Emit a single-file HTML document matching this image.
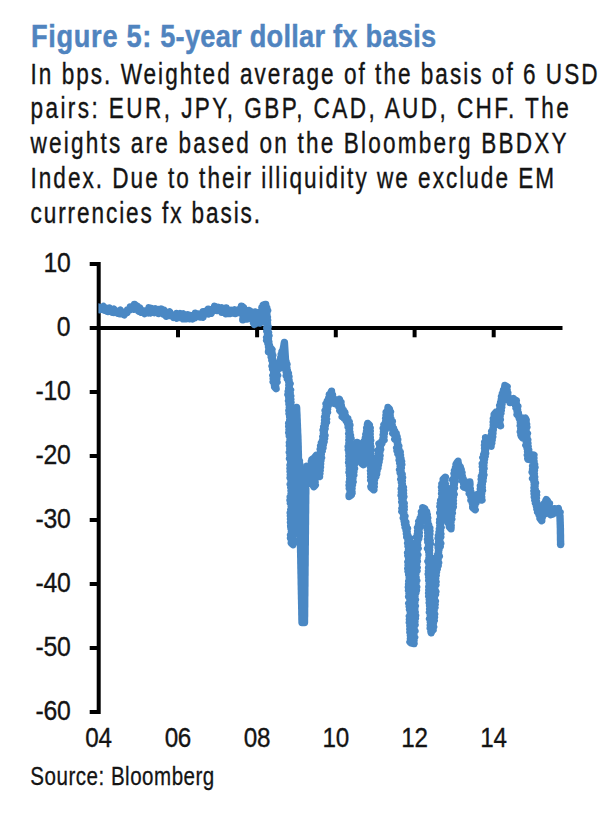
<!DOCTYPE html><html><head><meta charset="utf-8"><title>Figure 5: 5-year dollar fx basis</title>
<style>
html,body{margin:0;padding:0;background:#fff;}
body{width:600px;height:817px;position:relative;overflow:hidden;font-family:"Liberation Sans",Arial,sans-serif;}
.t{position:absolute;left:0;top:0;white-space:pre;transform-origin:0 0;line-height:1;}
.r{position:absolute;right:0;top:0;white-space:pre;transform-origin:100% 0;line-height:1;}
.c{position:absolute;left:0;top:0;width:100px;text-align:center;white-space:pre;transform-origin:50% 0;line-height:1;}
.title{font-weight:bold;font-size:32px;color:#5084bf;-webkit-text-stroke:0.45px #5084bf;}
.body{font-size:30px;color:#141414;-webkit-text-stroke:0.4px #141414;}
.src{font-size:26px;color:#141414;-webkit-text-stroke:0.3px #141414;}
.dig{font-size:28px;color:#141414;-webkit-text-stroke:0.35px #141414;}
</style></head><body>
<svg width="600" height="817" viewBox="0 0 600 817" style="position:absolute;left:0;top:0">
<g stroke="#000" stroke-width="4.0" fill="none" stroke-linecap="butt">
<line x1="98.7" y1="262.0" x2="98.7" y2="714.0"/>
<line x1="89.7" y1="264.0" x2="98.7" y2="264.0"/>
<line x1="89.7" y1="328.0" x2="98.7" y2="328.0"/>
<line x1="89.7" y1="392.0" x2="98.7" y2="392.0"/>
<line x1="89.7" y1="456.0" x2="98.7" y2="456.0"/>
<line x1="89.7" y1="520.0" x2="98.7" y2="520.0"/>
<line x1="89.7" y1="584.0" x2="98.7" y2="584.0"/>
<line x1="89.7" y1="648.0" x2="98.7" y2="648.0"/>
<line x1="89.7" y1="712.0" x2="98.7" y2="712.0"/>
<line x1="98.7" y1="328.0" x2="562.5" y2="328.0"/>
<line x1="178.0" y1="328.0" x2="178.0" y2="337.3"/>
<line x1="257.1" y1="328.0" x2="257.1" y2="337.3"/>
<line x1="335.8" y1="328.0" x2="335.8" y2="337.3"/>
<line x1="414.6" y1="328.0" x2="414.6" y2="337.3"/>
<line x1="493.7" y1="328.0" x2="493.7" y2="337.3"/>
</g>
<clipPath id="cl"><rect x="98.4" y="250" width="500" height="480"/></clipPath>
<path clip-path="url(#cl)" d="M98.7,309.5 L98.4,306.9 L100.0,309.6 L103.4,306.5 L104.4,310.2 L105.3,308.0 L105.1,309.6 L109.4,308.0 L107.5,311.6 L109.7,310.5 L111.8,312.0 L113.9,309.2 L113.9,312.5 L115.8,311.1 L117.7,313.2 L120.3,310.1 L120.0,313.8 L121.6,313.1 L124.3,314.8 L124.8,312.2 L127.1,312.4 L127.5,309.9 L129.9,309.8 L130.3,307.0 L134.0,309.2 L134.5,304.4 L134.9,308.4 L137.6,306.4 L137.0,309.0 L139.9,308.1 L138.8,311.2 L141.6,310.4 L141.6,312.4 L142.6,310.5 L144.6,313.6 L145.3,311.4 L148.3,312.8 L149.0,307.8 L150.5,313.0 L151.3,308.4 L154.4,312.6 L155.4,308.8 L156.2,310.9 L158.3,309.7 L158.8,313.6 L161.3,309.0 L161.8,312.7 L164.2,310.3 L164.1,314.5 L166.2,313.0 L166.4,316.4 L169.7,311.9 L169.7,315.6 L171.9,315.0 L173.4,317.4 L174.1,315.2 L176.7,318.2 L176.7,313.4 L178.8,316.8 L180.3,313.7 L180.3,317.6 L183.2,314.0 L183.3,318.8 L185.7,314.9 L186.1,318.9 L187.7,314.8 L189.6,318.6 L190.5,315.5 L192.6,318.8 L193.3,315.8 L195.1,317.6 L195.4,313.1 L197.6,316.1 L198.4,314.0 L200.3,316.9 L201.3,313.8 L203.0,317.1 L203.1,311.7 L205.5,314.0 L206.0,311.3 L208.5,313.8 L208.3,309.3 L211.3,313.2 L211.0,309.7 L213.8,310.2 L214.6,306.3 L216.9,310.4 L218.4,307.4 L218.8,310.0 L221.7,307.9 L221.9,312.3 L223.8,309.8 L225.7,313.7 L226.3,308.0 L227.6,313.5 L229.4,310.1 L230.4,313.4 L232.1,310.4 L233.1,312.9 L234.8,309.9 L235.7,313.5 L237.7,310.4 L240.2,312.8 L238.7,309.6 L241.6,309.3 L241.6,307.4 L241.5,306.1 L243.4,307.5 L241.5,309.2 L244.2,310.6 L242.5,312.3 L244.0,313.7 L243.2,315.4 L244.3,316.8 L242.9,318.5 L242.8,319.9 L245.2,318.7 L243.8,316.9 L245.6,315.7 L243.5,313.9 L245.9,312.7 L245.5,310.9 L244.2,312.8 L246.2,314.1 L244.4,316.1 L247.0,317.3 L246.8,319.1 L246.0,317.2 L247.3,315.6 L246.9,313.8 L248.3,312.3 L248.7,310.4 L247.6,312.1 L249.7,313.3 L248.0,315.2 L249.9,316.4 L250.5,318.2 L249.6,316.2 L250.8,314.6 L250.3,312.7 L250.1,311.1 L251.4,312.5 L250.8,314.1 L252.9,315.3 L251.1,317.1 L253.0,318.4 L253.6,320.2 L251.5,318.2 L254.0,317.0 L253.1,315.1 L254.8,313.8 L255.1,311.9 L253.4,313.6 L255.5,315.0 L254.2,316.7 L255.1,318.2 L254.0,319.9 L255.9,321.3 L253.5,323.0 L254.3,324.4 L256.3,323.1 L253.9,321.4 L256.4,320.1 L254.4,318.4 L255.8,317.0 L255.0,315.4 L257.0,314.1 L256.6,312.4 L255.8,314.1 L256.9,315.4 L256.2,317.1 L258.7,318.2 L256.6,320.5 L259.2,321.0 L259.8,323.1 L258.6,321.4 L260.3,320.0 L259.0,318.2 L260.2,316.8 L258.6,315.0 L260.9,313.7 L260.7,311.8 L260.2,313.4 L261.2,314.6 L262.1,316.1 L261.5,314.3 L262.3,312.8 L262.0,311.1 L263.1,309.7 L262.0,307.6 L264.8,307.2 L263.3,305.1 L264.1,304.7 L265.7,304.5 L264.4,306.2 L266.6,307.6 L264.9,309.4 L267.6,310.7 L265.1,312.5 L266.8,314.0 L265.6,315.6 L267.3,317.1 L265.7,318.7 L267.6,320.2 L266.7,321.8 L267.5,323.3 L266.9,324.9 L268.1,326.4 L266.8,328.0 L267.8,329.5 L266.8,331.2 L268.5,332.6 L267.5,334.2 L268.9,335.7 L266.7,337.4 L268.3,338.9 L266.7,340.5 L268.8,341.9 L267.9,343.7 L269.4,345.2 L268.5,347.0 L269.2,348.6 L268.7,350.4 L268.5,351.6 L270.6,350.9 L270.2,349.2 L270.6,348.0 L271.9,349.4 L269.9,351.2 L271.9,352.5 L270.8,354.1 L272.7,355.4 L271.2,357.1 L272.5,358.5 L271.8,360.1 L272.9,361.5 L272.6,363.0 L274.5,364.3 L272.1,366.1 L274.0,367.4 L272.7,369.1 L274.5,370.4 L273.6,372.0 L274.9,373.6 L272.9,375.4 L275.7,376.9 L273.3,378.7 L275.4,380.2 L273.2,382.0 L276.0,383.5 L274.5,385.3 L275.7,386.9 L276.1,388.7 L274.6,386.9 L275.5,385.3 L274.9,383.6 L277.0,382.1 L274.6,380.2 L276.7,378.7 L275.5,376.9 L277.6,375.4 L275.6,373.6 L276.7,372.0 L276.2,370.3 L278.1,369.2 L277.2,367.4 L276.5,367.5 L279.6,366.4 L280.2,368.0 L279.1,366.3 L281.9,365.2 L280.5,363.5 L281.5,362.1 L280.1,360.3 L282.4,359.2 L280.9,357.4 L282.5,356.1 L281.3,354.3 L283.0,353.1 L282.0,351.3 L283.1,350.0 L283.3,348.4 L283.6,346.9 L283.9,345.4 L284.1,343.9 L284.4,342.4 L284.5,344.0 L284.6,345.6 L284.7,347.2 L284.8,348.8 L284.9,350.4 L285.0,352.0 L285.1,353.6 L285.2,355.2 L285.3,356.8 L285.4,358.4 L285.5,360.0 L286.1,361.5 L284.9,363.1 L286.9,364.4 L285.0,366.1 L286.7,367.5 L285.3,369.1 L287.3,370.4 L286.3,372.0 L288.3,373.3 L286.3,375.6 L288.9,376.7 L287.4,378.8 L289.1,380.2 L288.7,382.0 L290.1,383.6 L288.8,385.2 L289.3,386.7 L288.7,388.3 L290.5,389.9 L288.3,391.5 L290.1,393.1 L288.0,394.7 L290.7,396.2 L288.9,397.8 L290.7,399.4 L288.6,401.0 L290.9,402.5 L289.0,404.2 L290.1,405.7 L289.3,407.3 L290.8,408.9 L289.0,410.5 L290.9,412.1 L289.1,413.7 L290.2,415.2 L289.6,416.8 L290.3,418.4 L289.7,420.0 L291.0,421.6 L288.8,423.3 L291.6,424.8 L288.8,426.5 L291.4,428.0 L289.1,429.7 L291.5,431.3 L288.8,432.9 L291.6,434.5 L289.4,436.1 L291.8,437.7 L290.1,439.4 L291.3,441.0 L289.5,442.6 L291.3,444.2 L289.5,445.8 L291.5,447.4 L289.9,449.0 L291.4,450.6 L289.4,452.3 L291.0,453.9 L290.0,455.5 L291.9,457.1 L289.6,458.7 L292.0,460.3 L290.7,461.9 L292.3,463.5 L290.1,465.2 L291.5,466.8 L290.1,468.4 L292.1,470.0 L290.2,471.6 L292.0,473.2 L290.4,474.8 L292.3,476.3 L290.2,477.9 L292.2,479.5 L291.0,481.1 L292.1,482.7 L290.3,484.3 L292.4,485.9 L290.8,487.5 L291.8,489.0 L291.0,490.6 L292.5,492.2 L291.1,493.8 L292.3,495.4 L290.3,497.0 L292.3,498.6 L290.1,500.2 L291.9,501.7 L290.5,503.3 L292.8,504.9 L291.3,506.5 L292.9,508.1 L290.9,509.7 L292.8,511.3 L290.3,512.9 L292.7,514.4 L290.5,516.0 L293.0,517.6 L290.6,519.2 L292.1,520.8 L290.6,522.4 L292.8,524.0 L290.8,525.6 L292.0,527.1 L291.0,528.7 L292.1,530.3 L291.4,531.9 L293.3,533.5 L290.6,535.1 L293.0,536.6 L290.6,538.3 L293.2,539.8 L291.6,541.4 L293.5,543.0 L293.0,544.6 L291.3,543.0 L292.6,541.4 L291.7,539.8 L292.6,538.2 L291.9,536.6 L292.6,535.1 L291.4,533.4 L293.3,531.9 L292.1,530.3 L292.9,528.7 L290.9,527.0 L293.1,525.5 L291.3,523.9 L293.2,522.3 L291.2,520.7 L294.0,519.1 L292.3,517.5 L294.1,516.0 L292.5,514.3 L294.2,512.8 L291.5,511.1 L293.8,509.6 L291.9,507.9 L293.6,506.4 L292.1,504.8 L293.9,503.2 L291.6,501.6 L293.4,500.0 L292.4,498.4 L294.3,496.9 L292.6,495.2 L293.4,493.7 L292.1,492.1 L294.3,490.6 L292.1,488.9 L294.8,487.4 L291.9,485.8 L293.7,484.2 L292.4,482.6 L294.0,481.1 L293.3,479.5 L294.2,477.9 L292.4,476.3 L294.3,474.8 L293.1,473.1 L294.0,471.6 L293.2,470.0 L294.6,468.4 L293.2,466.8 L295.4,465.3 L293.4,463.7 L295.1,462.1 L292.8,460.5 L295.3,459.0 L293.4,457.4 L295.3,455.8 L293.9,454.2 L295.0,452.7 L293.2,451.0 L294.7,449.5 L293.3,447.9 L294.6,446.3 L293.8,444.7 L295.0,443.2 L293.4,441.6 L295.4,440.1 L294.0,438.3 L295.4,436.8 L293.7,435.0 L295.6,433.5 L294.8,431.8 L296.5,430.3 L295.2,428.6 L295.3,427.0 L295.4,425.3 L295.6,423.7 L295.7,422.1 L295.8,420.4 L295.9,418.8 L296.0,417.2 L296.1,415.5 L296.2,413.9 L296.3,412.3 L296.4,410.7 L296.5,409.0 L296.6,407.4 L296.7,409.0 L296.7,410.7 L296.8,412.3 L296.9,413.9 L297.0,415.5 L297.0,417.2 L297.1,418.8 L297.2,420.4 L297.2,422.1 L297.3,423.7 L297.4,425.3 L297.4,427.0 L297.5,428.6 L297.6,430.2 L297.6,431.9 L297.7,433.5 L297.8,435.1 L297.9,436.7 L297.9,438.4 L298.0,440.0 L298.0,441.6 L298.1,443.2 L298.1,444.8 L298.2,446.4 L298.2,448.0 L298.2,449.6 L298.3,451.2 L298.3,452.8 L298.4,454.4 L298.4,456.0 L298.4,457.6 L298.5,459.2 L299.4,460.8 L297.6,462.4 L299.6,464.0 L298.2,465.6 L300.1,467.2 L297.6,468.8 L299.9,470.4 L298.6,472.0 L300.2,473.6 L298.3,475.2 L300.0,476.8 L298.6,478.4 L299.6,480.0 L298.3,481.6 L300.0,483.2 L298.8,484.8 L300.4,486.4 L297.9,488.0 L300.2,489.6 L297.9,491.2 L299.6,492.8 L297.9,494.4 L300.0,496.0 L298.7,497.6 L300.2,499.2 L298.2,500.8 L300.2,502.4 L298.6,504.0 L300.0,505.6 L298.8,507.2 L300.3,508.8 L299.3,510.4 L300.1,512.0 L299.0,513.6 L301.0,515.2 L298.9,516.8 L301.0,518.4 L299.5,520.0 L300.9,521.6 L299.6,523.2 L301.5,524.8 L300.0,526.4 L301.3,528.0 L299.6,529.6 L300.9,531.2 L298.8,532.8 L301.4,534.4 L300.1,536.0 L300.9,537.6 L300.2,539.2 L301.2,540.8 L299.5,542.4 L301.6,544.0 L300.5,545.6 L300.5,547.2 L300.6,548.8 L300.6,550.4 L300.6,552.0 L300.7,553.6 L300.7,555.2 L300.7,556.8 L300.8,558.4 L300.8,560.0 L300.8,561.6 L300.8,563.2 L300.9,564.8 L300.9,566.4 L300.9,568.0 L301.0,569.6 L301.0,571.2 L301.0,572.9 L301.1,574.5 L301.1,576.1 L301.1,577.7 L301.2,579.3 L301.2,580.9 L301.2,582.5 L301.2,584.1 L301.3,585.7 L301.3,587.3 L301.3,588.9 L301.4,590.5 L301.4,592.1 L301.4,593.7 L301.5,595.3 L301.5,596.9 L301.5,598.5 L301.6,600.1 L301.6,601.7 L301.6,603.3 L301.7,604.9 L301.7,606.5 L301.7,608.1 L301.8,609.7 L301.8,611.3 L301.8,612.9 L301.8,614.5 L301.9,616.1 L301.9,617.7 L301.9,619.3 L302.0,620.9 L302.0,622.5 L303.2,622.5 L304.5,622.5 L304.5,620.9 L304.5,619.3 L304.5,617.7 L304.6,616.2 L304.6,614.6 L304.6,613.0 L304.6,611.4 L304.6,609.8 L304.6,608.2 L304.7,606.6 L304.7,605.0 L304.7,603.5 L304.7,601.9 L304.7,600.3 L304.7,598.7 L304.7,597.1 L304.8,595.5 L304.8,593.9 L304.8,592.4 L304.8,590.8 L304.8,589.2 L304.8,587.6 L304.9,586.0 L304.9,584.4 L304.9,582.8 L304.9,581.2 L304.9,579.7 L304.9,578.1 L304.9,576.5 L305.0,574.9 L305.0,573.3 L305.0,571.7 L305.0,570.1 L305.0,568.6 L305.0,567.0 L305.1,565.4 L305.1,563.8 L305.1,562.2 L305.1,560.6 L305.1,559.0 L305.1,557.5 L305.1,555.9 L305.2,554.3 L305.2,552.7 L305.2,551.1 L305.2,549.5 L305.2,547.9 L305.2,546.3 L305.3,544.8 L305.3,543.2 L305.3,541.6 L305.3,540.0 L305.3,538.4 L305.3,536.8 L305.3,535.2 L305.4,533.6 L305.4,532.0 L305.4,530.4 L305.4,528.8 L305.4,527.2 L305.4,525.6 L305.5,524.0 L305.5,522.4 L305.5,520.8 L305.5,519.2 L305.5,517.6 L305.5,516.0 L305.5,514.4 L305.6,512.8 L305.6,511.2 L305.6,509.6 L305.6,508.0 L305.6,506.4 L305.6,504.8 L305.7,503.2 L305.7,501.6 L305.7,500.0 L305.7,498.4 L305.7,496.8 L305.7,495.2 L305.8,493.6 L305.8,492.0 L305.8,490.4 L305.8,488.8 L304.8,487.2 L306.1,485.6 L304.5,484.0 L306.4,482.4 L304.7,480.8 L306.2,479.2 L305.0,477.6 L306.8,476.0 L305.0,474.4 L307.2,472.8 L304.8,471.2 L307.0,469.6 L306.9,466.1 L308.6,469.4 L308.7,467.3 L309.6,466.1 L310.9,467.4 L310.6,469.0 L311.7,470.3 L312.7,472.1 L310.6,470.3 L312.4,469.0 L311.1,467.2 L313.5,465.9 L312.1,464.2 L313.7,462.8 L311.5,461.0 L313.7,459.6 L314.2,458.0 L312.0,459.6 L314.5,461.1 L312.1,462.8 L314.1,464.3 L312.3,466.0 L313.8,467.5 L313.1,469.1 L314.1,470.7 L312.9,472.3 L314.1,473.9 L313.2,475.5 L315.1,477.0 L313.5,478.7 L314.8,480.2 L313.3,481.9 L314.3,483.4 L313.0,485.0 L313.8,486.6 L315.3,485.1 L312.8,483.4 L315.0,481.9 L312.7,480.3 L314.8,478.8 L314.1,477.2 L315.2,475.7 L313.9,474.1 L315.9,472.6 L313.0,471.0 L314.9,469.5 L313.2,467.8 L315.3,466.3 L313.2,464.7 L316.1,463.2 L313.3,461.6 L315.8,460.1 L314.2,458.5 L316.3,457.0 L316.4,455.3 L314.8,457.1 L316.1,458.6 L314.9,460.3 L315.9,461.9 L315.0,463.6 L316.4,465.1 L315.4,466.8 L317.4,468.3 L317.8,470.2 L315.4,468.2 L318.3,467.0 L316.1,465.1 L318.3,463.7 L317.8,462.0 L316.5,463.7 L318.5,465.2 L317.8,466.9 L319.1,468.4 L317.2,470.2 L319.0,471.7 L317.3,473.5 L319.0,475.0 L319.5,476.6 L317.8,474.9 L319.8,473.5 L318.7,471.8 L320.2,470.3 L319.4,468.7 L320.5,467.2 L319.1,465.5 L320.6,464.0 L319.6,462.3 L320.8,460.8 L319.0,459.1 L321.5,457.7 L319.4,455.8 L321.3,454.4 L320.5,452.6 L322.1,451.1 L320.3,449.2 L322.9,447.8 L320.7,445.8 L323.3,444.7 L321.5,442.8 L324.1,441.7 L322.7,440.0 L324.5,438.5 L322.9,436.7 L324.9,435.2 L323.4,433.4 L324.3,431.9 L323.1,430.1 L325.0,428.6 L323.7,426.8 L325.3,425.4 L324.4,423.6 L326.4,422.2 L324.7,420.3 L326.5,418.9 L324.7,417.0 L326.4,415.5 L325.4,413.8 L327.4,412.3 L325.2,410.4 L327.5,409.0 L326.3,407.2 L328.1,405.8 L326.1,403.7 L327.7,402.6 L327.3,400.8 L329.1,399.7 L328.7,397.9 L330.4,396.6 L329.4,394.5 L331.4,393.3 L331.5,391.3 L330.7,393.2 L332.4,394.6 L331.2,396.6 L333.2,397.8 L331.7,399.9 L334.4,400.7 L333.5,402.7 L333.0,402.9 L336.8,404.1 L334.9,400.7 L337.8,401.1 L339.4,399.3 L338.5,401.1 L340.9,402.2 L338.8,404.1 L341.2,405.3 L339.0,407.2 L342.0,408.2 L339.9,410.6 L343.4,410.4 L341.9,412.9 L344.9,412.6 L342.2,416.7 L345.6,416.2 L344.5,418.7 L347.8,418.8 L346.4,421.1 L349.2,421.8 L347.8,423.7 L349.8,425.1 L348.2,427.1 L349.6,428.6 L349.0,430.4 L349.9,432.0 L348.7,433.6 L350.4,435.2 L349.1,436.9 L350.9,438.4 L348.9,440.1 L350.0,441.7 L348.9,443.3 L350.3,444.9 L348.3,446.6 L350.5,448.1 L348.4,449.8 L351.3,451.4 L349.0,453.0 L351.0,454.6 L348.9,456.2 L351.4,457.8 L349.0,459.5 L350.6,461.1 L348.7,462.7 L350.9,464.3 L349.3,465.9 L351.1,467.5 L349.4,469.2 L350.6,470.8 L349.1,472.4 L351.6,474.0 L349.7,475.6 L351.6,477.2 L349.8,478.8 L351.0,480.4 L349.3,482.1 L350.6,483.7 L349.2,485.3 L351.6,486.9 L349.4,488.5 L351.5,490.1 L350.2,491.8 L351.9,493.3 L349.1,495.0 L349.1,496.5 L351.3,495.0 L350.6,493.3 L351.9,491.7 L350.1,489.9 L352.0,488.4 L351.0,486.6 L352.4,485.1 L350.7,483.2 L353.1,481.8 L351.6,479.9 L352.9,478.4 L351.8,476.6 L353.7,475.1 L351.7,473.2 L353.8,471.8 L352.6,469.9 L354.5,468.5 L353.5,466.6 L354.3,465.0 L353.0,463.2 L354.7,461.7 L354.2,459.9 L355.4,458.4 L354.0,456.5 L356.1,455.1 L354.1,453.1 L356.3,451.7 L354.8,449.7 L357.2,448.7 L356.2,446.8 L358.1,445.7 L357.1,443.8 L357.2,442.5 L359.3,443.8 L357.1,445.8 L359.6,447.0 L357.9,448.9 L360.5,450.1 L359.2,451.9 L360.2,453.3 L359.5,455.1 L360.6,456.5 L359.3,458.5 L361.2,459.7 L361.1,461.5 L362.4,462.9 L363.4,464.8 L361.3,462.9 L363.5,461.6 L361.4,459.7 L363.6,458.4 L362.9,456.7 L364.3,455.3 L363.1,453.5 L365.1,452.1 L363.8,450.4 L365.7,449.0 L364.4,447.2 L365.9,445.7 L363.6,443.8 L366.1,442.5 L364.5,440.7 L367.0,439.4 L365.4,437.6 L366.3,436.1 L365.8,434.3 L367.7,433.1 L366.6,431.2 L368.2,429.9 L366.8,428.0 L368.7,426.7 L367.4,424.8 L367.7,423.4 L369.3,424.9 L368.1,426.6 L370.1,428.0 L367.3,429.7 L370.2,431.1 L367.7,432.9 L370.1,434.3 L367.9,436.0 L370.2,437.4 L368.3,439.1 L370.6,440.5 L368.8,442.2 L370.2,443.7 L368.3,445.4 L370.8,446.8 L368.7,448.5 L370.9,449.9 L369.1,451.6 L370.4,453.2 L369.4,454.8 L370.9,456.3 L370.1,457.9 L371.2,459.5 L369.4,461.2 L371.0,462.7 L370.4,464.3 L371.3,465.8 L370.6,467.5 L371.7,469.0 L370.6,470.6 L372.8,472.1 L370.8,473.8 L372.8,475.3 L370.8,477.0 L372.1,478.5 L370.8,480.2 L373.3,481.6 L371.8,483.3 L373.0,484.8 L371.0,486.5 L372.6,488.0 L373.8,489.8 L371.3,487.7 L374.2,486.6 L372.1,484.5 L374.3,483.2 L373.4,481.4 L374.5,479.9 L373.6,478.1 L375.8,476.8 L374.3,474.9 L376.6,473.8 L375.3,471.9 L376.9,470.7 L375.5,468.9 L377.9,467.8 L375.8,465.8 L378.4,464.8 L377.0,462.9 L379.0,461.8 L376.9,459.8 L379.6,458.6 L377.6,456.8 L380.0,455.5 L378.2,453.7 L379.7,452.3 L378.0,450.5 L380.6,449.3 L379.6,447.5 L380.5,446.2 L379.0,443.6 L381.9,443.2 L381.8,441.3 L384.0,440.1 L383.0,438.3 L384.0,436.7 L383.1,434.9 L384.4,433.4 L383.5,431.6 L385.1,430.1 L383.3,428.2 L385.4,426.8 L384.0,424.8 L386.2,423.6 L385.5,421.8 L387.0,420.4 L385.7,418.5 L387.5,417.2 L386.1,415.3 L388.1,414.0 L386.3,412.0 L388.5,410.7 L387.9,409.0 L388.0,407.5 L389.3,408.8 L387.8,410.8 L390.5,411.9 L389.5,413.7 L390.2,415.2 L389.4,417.1 L390.8,418.4 L389.6,420.3 L392.3,421.5 L390.9,423.5 L392.2,425.0 L391.1,426.9 L393.5,428.2 L392.8,430.1 L394.6,431.0 L392.8,433.4 L396.2,433.7 L394.9,435.8 L397.0,436.7 L394.8,439.2 L397.7,439.9 L396.8,441.6 L397.7,443.0 L397.5,444.6 L398.7,446.0 L396.7,447.9 L398.7,449.2 L397.1,451.0 L400.2,452.1 L398.0,454.0 L400.4,455.2 L399.3,457.0 L400.8,458.3 L399.2,460.1 L401.5,461.5 L399.8,463.2 L401.7,464.7 L400.2,466.4 L401.3,467.9 L399.6,469.7 L401.1,471.2 L400.2,472.9 L402.1,474.3 L401.2,476.0 L402.5,477.5 L400.8,479.3 L402.3,480.8 L401.4,482.4 L402.4,484.0 L401.8,485.6 L403.3,487.2 L401.3,488.9 L403.4,490.5 L401.5,492.2 L403.4,493.7 L401.2,495.4 L403.8,496.9 L401.9,498.6 L403.1,500.2 L401.8,501.9 L404.1,503.4 L402.5,505.1 L404.1,506.7 L402.0,508.4 L404.1,509.8 L401.9,511.7 L403.9,513.0 L403.5,514.7 L404.9,516.1 L403.3,517.9 L404.6,519.3 L404.1,521.0 L405.8,522.3 L404.6,524.1 L406.2,525.4 L405.2,527.3 L407.4,528.5 L406.1,530.5 L407.2,531.9 L406.4,533.8 L407.8,535.1 L406.8,537.0 L409.6,538.1 L408.1,540.0 L410.1,541.5 L407.7,543.2 L409.9,544.7 L408.1,546.3 L409.4,547.9 L408.5,549.5 L409.5,551.0 L407.7,552.7 L410.5,554.2 L407.9,555.8 L409.3,557.4 L408.6,559.0 L410.5,560.5 L407.9,562.1 L409.9,563.7 L408.2,565.3 L409.8,566.8 L407.9,568.5 L410.6,570.0 L408.1,571.6 L411.0,573.1 L408.8,574.8 L411.0,576.3 L409.3,577.9 L410.5,579.4 L408.8,581.1 L410.8,582.6 L408.7,584.2 L411.1,585.8 L408.4,587.4 L410.6,588.9 L408.6,590.6 L410.5,592.1 L409.1,593.7 L411.5,595.2 L408.7,596.9 L411.2,598.4 L410.0,600.0 L410.5,601.6 L408.8,603.3 L411.7,604.8 L409.3,606.5 L411.4,608.1 L409.6,609.7 L411.1,611.3 L410.3,612.9 L411.4,614.5 L409.4,616.2 L410.9,617.8 L409.5,619.4 L411.1,621.0 L409.4,622.6 L410.8,624.2 L409.8,625.9 L411.0,627.4 L409.9,629.1 L412.1,630.7 L410.0,632.3 L411.9,633.9 L410.4,635.5 L411.5,637.1 L410.4,638.8 L411.6,640.4 L410.0,642.0 L411.0,642.8 L414.1,643.6 L412.8,642.0 L414.0,640.5 L413.0,638.9 L414.6,637.3 L412.8,635.7 L413.9,634.2 L412.8,632.5 L414.9,631.0 L412.0,629.4 L414.0,627.9 L413.0,626.2 L415.0,624.7 L412.9,623.1 L414.8,621.6 L413.2,619.9 L415.3,618.4 L413.6,616.8 L415.5,615.3 L413.9,613.6 L415.1,612.1 L413.2,610.5 L414.7,608.9 L413.2,607.3 L415.3,605.8 L413.3,604.1 L414.7,602.6 L413.1,601.0 L415.4,599.5 L414.0,597.9 L415.0,596.3 L414.4,594.7 L415.7,593.2 L413.7,591.5 L416.4,590.1 L414.7,588.4 L416.6,586.8 L414.3,585.1 L415.9,583.6 L414.4,581.9 L416.7,580.4 L414.1,578.7 L416.0,577.2 L414.8,575.5 L415.9,573.9 L414.4,572.3 L417.0,570.8 L415.7,569.1 L417.1,567.6 L415.0,565.8 L416.6,564.3 L414.7,562.6 L417.3,561.1 L415.1,559.4 L417.0,557.9 L415.4,556.2 L417.8,554.7 L415.9,553.0 L416.9,551.4 L416.0,549.8 L418.1,548.3 L416.3,546.6 L417.6,545.1 L415.8,543.3 L417.6,541.9 L417.3,540.3 L418.6,538.8 L416.5,537.0 L419.2,535.8 L417.5,534.0 L419.2,532.6 L417.7,530.8 L419.1,529.4 L417.6,527.6 L420.6,526.4 L418.7,524.6 L420.5,523.2 L418.8,521.4 L420.5,520.2 L420.1,518.3 L421.8,517.1 L421.3,515.2 L423.1,514.1 L421.5,511.8 L423.5,510.7 L423.0,508.8 L422.8,507.7 L424.7,508.8 L424.0,510.6 L426.5,511.6 L424.2,513.9 L427.3,514.7 L425.7,516.7 L427.7,518.0 L426.7,519.9 L427.7,521.4 L427.4,523.2 L428.6,524.6 L427.3,526.5 L429.7,528.0 L427.4,529.6 L429.9,531.1 L427.8,532.8 L429.8,534.3 L427.9,536.0 L429.5,537.5 L427.6,539.2 L430.1,540.7 L427.9,542.3 L430.3,543.9 L428.6,545.5 L429.6,547.1 L427.6,548.7 L429.6,550.2 L428.7,551.9 L429.6,553.4 L429.0,555.0 L430.1,556.6 L428.9,558.2 L429.7,559.8 L428.0,561.4 L430.3,563.0 L429.0,564.6 L429.9,566.1 L428.6,567.8 L429.7,569.3 L428.5,570.9 L430.0,572.5 L428.3,574.1 L430.7,575.7 L428.8,577.3 L430.7,578.8 L428.8,580.5 L430.1,582.0 L429.2,583.7 L431.0,585.2 L428.9,586.8 L430.7,588.4 L428.9,590.0 L431.3,591.6 L428.7,593.2 L430.6,594.8 L428.8,596.4 L431.1,598.0 L429.4,599.6 L431.2,601.2 L429.3,602.8 L431.8,604.4 L429.7,606.0 L431.4,607.6 L429.7,609.2 L431.0,610.8 L429.5,612.4 L431.4,614.0 L430.3,615.6 L431.6,617.2 L429.6,618.8 L431.7,620.4 L430.3,622.0 L431.3,623.6 L430.3,625.2 L432.2,626.8 L430.3,628.4 L431.9,630.0 L431.2,632.8 L430.9,631.5 L433.0,630.0 L431.3,628.3 L433.6,626.8 L431.9,625.1 L433.3,623.6 L431.8,621.9 L434.2,620.4 L431.8,618.6 L434.4,617.2 L432.1,615.4 L434.6,613.9 L432.4,612.2 L434.0,610.7 L432.3,609.0 L434.9,607.5 L432.7,605.7 L435.1,604.3 L433.3,602.5 L435.3,601.0 L432.5,599.3 L434.4,597.8 L433.8,596.1 L435.4,594.6 L433.5,592.9 L435.8,591.4 L434.1,589.7 L434.8,588.1 L433.9,586.4 L435.8,584.9 L433.4,583.1 L436.0,581.7 L433.5,579.8 L435.6,578.5 L434.1,576.6 L436.1,575.3 L434.9,573.5 L436.4,572.1 L434.8,570.2 L437.2,568.9 L435.8,567.1 L438.1,565.8 L436.2,563.9 L438.6,562.6 L436.1,560.6 L438.0,559.3 L436.6,557.5 L439.3,556.2 L437.7,554.3 L438.6,552.8 L438.4,551.2 L439.0,549.6 L438.2,548.0 L440.1,546.5 L437.9,544.8 L440.7,543.3 L438.7,541.6 L439.8,540.1 L438.2,538.4 L440.7,537.0 L438.5,535.3 L440.8,533.8 L439.1,532.1 L440.5,530.6 L439.4,529.0 L441.1,527.5 L439.8,525.8 L440.6,524.3 L439.6,522.6 L441.4,521.1 L439.8,519.5 L441.9,518.0 L440.5,516.3 L440.9,514.8 L439.8,513.1 L442.0,511.6 L440.5,510.0 L441.4,508.4 L440.0,506.6 L442.3,505.2 L440.3,503.4 L443.0,502.0 L440.8,500.1 L443.2,498.7 L441.9,496.9 L443.1,495.4 L441.7,493.6 L444.1,492.2 L441.9,490.4 L444.3,488.9 L441.6,487.0 L443.6,485.6 L442.0,483.8 L444.0,482.3 L443.2,480.6 L444.1,479.1 L445.3,477.2 L443.3,479.1 L444.8,480.6 L443.1,482.4 L445.2,483.7 L444.2,485.5 L445.9,486.9 L444.5,488.7 L446.4,490.1 L444.6,491.9 L446.9,493.3 L445.1,495.1 L446.7,496.5 L446.2,498.1 L447.9,499.5 L445.6,501.3 L447.1,502.7 L445.9,504.3 L447.3,505.8 L446.2,507.4 L448.4,508.7 L446.8,510.5 L448.6,511.8 L446.7,513.6 L448.9,514.9 L447.8,516.6 L448.8,518.0 L447.4,519.7 L450.2,520.9 L448.0,522.7 L449.9,524.0 L449.3,525.6 L451.1,526.9 L451.0,528.7 L449.5,527.0 L451.1,525.5 L450.0,523.8 L451.0,522.3 L450.0,520.7 L451.7,519.2 L449.8,517.5 L451.5,516.1 L450.0,514.3 L452.3,513.0 L450.4,511.2 L452.1,509.8 L450.3,508.0 L453.3,506.7 L451.2,504.9 L453.3,503.5 L451.4,501.8 L453.3,500.4 L451.1,498.6 L453.3,497.2 L452.1,495.6 L454.1,494.2 L451.9,492.4 L453.4,491.0 L452.1,489.3 L454.4,487.9 L453.1,486.2 L454.3,484.7 L453.4,483.1 L455.0,481.7 L452.6,479.7 L454.7,478.5 L454.2,476.8 L456.1,475.6 L454.1,473.6 L456.4,472.4 L454.6,470.5 L457.3,469.4 L455.6,467.4 L457.0,466.1 L456.1,464.3 L458.1,463.1 L458.0,461.3 L456.7,463.2 L458.7,464.2 L458.6,465.8 L460.2,466.9 L459.3,468.7 L461.1,469.6 L460.1,471.6 L461.9,472.7 L460.4,474.9 L462.2,475.9 L461.4,477.7 L463.1,478.7 L462.3,480.5 L464.8,481.3 L463.6,483.2 L466.2,484.1 L463.7,487.0 L465.4,487.7 L467.2,486.7 L466.9,484.7 L470.0,484.4 L469.8,481.9 L468.0,483.8 L469.7,485.2 L469.4,486.9 L470.3,488.5 L469.0,490.3 L470.7,491.7 L469.3,493.6 L471.4,494.9 L470.8,496.7 L472.0,498.2 L471.0,500.1 L473.3,501.3 L472.3,503.2 L473.3,504.7 L472.7,506.5 L474.1,507.9 L475.2,509.8 L472.9,507.7 L474.7,506.3 L474.4,504.5 L475.9,503.1 L474.5,501.2 L476.4,499.8 L475.1,497.6 L477.4,497.1 L476.4,494.9 L477.7,494.2 L479.1,495.3 L479.1,497.2 L481.3,498.0 L482.0,500.1 L480.4,498.4 L481.7,496.9 L480.8,495.2 L481.7,493.7 L480.9,492.1 L482.4,490.6 L480.4,488.9 L482.2,487.4 L480.5,485.7 L482.3,484.2 L481.3,482.6 L482.9,481.1 L481.3,479.4 L483.2,477.9 L481.5,476.2 L483.9,474.8 L482.5,473.1 L483.5,471.6 L482.6,470.0 L484.0,468.5 L482.4,466.8 L483.8,465.4 L482.4,463.7 L484.2,462.4 L483.6,460.7 L484.5,459.3 L482.9,457.6 L485.1,456.2 L483.8,454.5 L485.6,453.2 L484.6,451.5 L485.5,450.1 L484.6,448.4 L486.4,447.0 L484.6,445.2 L486.9,443.8 L484.8,442.0 L486.3,440.6 L485.8,438.9 L485.6,437.7 L487.4,438.7 L486.7,440.5 L488.2,441.5 L488.3,443.1 L491.1,443.6 L491.1,446.2 L489.6,444.3 L491.7,443.0 L489.6,440.9 L492.1,439.8 L490.1,437.7 L492.7,436.6 L491.5,434.7 L492.9,433.3 L491.7,431.4 L493.3,430.0 L493.0,428.4 L493.6,426.8 L493.2,425.2 L494.5,423.7 L493.2,421.9 L494.4,420.4 L493.4,418.7 L495.1,417.3 L494.2,415.6 L495.4,414.1 L496.2,412.1 L494.3,414.2 L496.2,415.3 L494.8,417.3 L497.4,418.3 L496.7,420.1 L497.8,421.3 L496.7,423.3 L499.9,423.7 L500.5,425.7 L498.2,424.0 L499.6,422.5 L498.4,420.9 L500.3,419.5 L499.4,417.9 L500.1,416.4 L498.7,414.7 L500.8,413.3 L499.1,411.6 L501.2,410.2 L499.9,408.6 L501.6,407.2 L499.8,405.4 L501.9,404.2 L500.7,402.4 L502.8,401.2 L501.4,399.4 L503.0,398.2 L501.6,396.4 L503.6,395.2 L502.4,393.4 L503.4,392.1 L503.4,390.2 L505.6,389.2 L504.7,387.0 L504.9,385.5 L507.1,386.7 L505.8,388.5 L507.1,389.8 L506.2,391.5 L507.7,392.8 L506.1,394.7 L507.9,395.9 L506.7,398.1 L509.5,399.0 L510.0,402.5 L509.1,397.9 L511.6,401.8 L513.6,398.6 L513.5,399.7 L516.3,400.6 L515.5,402.3 L516.4,403.6 L515.6,405.3 L517.8,406.3 L516.1,408.2 L517.6,409.5 L517.1,411.3 L518.3,412.7 L517.1,414.6 L519.0,415.4 L519.1,417.8 L522.2,417.9 L519.9,419.6 L521.4,421.1 L520.4,422.7 L521.9,424.1 L520.3,425.7 L521.7,427.2 L520.8,428.8 L522.7,430.3 L520.4,431.9 L523.0,433.3 L521.0,435.0 L523.4,436.4 L522.8,438.1 L521.5,436.4 L523.8,435.1 L522.3,433.3 L524.2,432.0 L522.4,430.2 L524.6,428.9 L522.4,427.0 L525.3,425.9 L522.7,423.9 L524.6,422.7 L523.7,421.0 L526.1,419.7 L525.2,418.0 L524.1,419.6 L526.0,421.1 L524.7,422.8 L526.5,424.2 L524.4,425.9 L526.8,427.3 L524.6,429.1 L526.1,430.6 L525.3,432.2 L527.4,433.6 L525.2,435.4 L526.7,436.8 L525.0,438.5 L527.7,439.8 L526.3,441.7 L527.8,443.2 L525.9,445.2 L528.1,446.6 L527.1,448.4 L528.7,449.9 L527.6,451.7 L529.4,453.2 L527.4,455.1 L529.8,456.6 L527.7,458.5 L528.1,459.4 L531.7,459.6 L530.5,456.5 L533.0,457.0 L533.9,455.0 L532.1,456.6 L533.8,458.1 L532.3,459.7 L534.0,461.2 L533.1,462.8 L534.5,464.3 L532.7,466.0 L534.9,467.4 L532.7,469.1 L534.3,470.6 L532.2,472.2 L534.3,473.7 L533.4,475.3 L534.6,476.8 L532.6,478.5 L534.6,479.9 L533.9,481.6 L535.4,483.0 L534.2,484.6 L535.1,486.1 L534.0,487.8 L535.2,489.2 L534.0,490.9 L536.5,492.2 L534.2,494.0 L536.5,495.3 L534.4,497.1 L536.3,498.4 L534.9,500.2 L536.5,501.5 L535.5,503.2 L537.4,504.4 L536.5,506.2 L538.9,507.2 L537.0,509.2 L539.2,510.3 L537.7,512.2 L539.9,513.1 L539.1,514.9 L540.7,516.0 L540.0,517.7 L541.1,518.9 L541.7,520.7 L540.1,518.6 L542.2,517.5 L541.4,515.6 L543.9,514.6 L542.7,512.6 L544.1,511.3 L543.0,509.4 L544.9,508.3 L543.6,506.3 L546.4,505.6 L544.4,503.3 L546.8,502.5 L545.8,500.6 L546.3,499.6 L547.5,500.8 L547.1,502.4 L549.4,503.4 L547.5,505.3 L549.2,506.4 L547.7,508.4 L550.7,509.0 L549.6,510.9 L550.7,512.1 L549.5,513.9 L550.5,514.7 L553.0,513.9 L551.2,510.9 L554.2,511.2 L554.4,508.6 L555.1,509.4 L558.4,508.6 L557.1,511.4 L560.1,512.3 L559.5,514.3 L560.0,516.0 L560.0,517.6 L560.1,519.1 L560.1,520.7 L560.2,522.2 L560.2,523.8 L560.3,525.3 L560.3,526.9 L560.4,528.4 L560.4,530.0 L560.4,531.6 L560.4,533.2 L560.5,534.9 L560.5,536.5 L560.5,538.1 L560.5,539.7 L560.6,541.4 L560.6,543.0 L560.6,544.6" fill="none" stroke="#4a88c4" stroke-width="7.4" stroke-linejoin="round" stroke-linecap="butt"/>
<circle cx="560.6" cy="544.6" r="3.7" fill="#4a88c4"/>
</svg>
<div class="t title" style="transform:translate(31.0px,20.11px) scaleX(0.85);letter-spacing:0.294px"><span style='letter-spacing:0.8px'>Figure 5: </span>5-year dollar fx basis</div>
<div class="t body" style="transform:translate(30.5px,58.61px) scaleX(0.752);letter-spacing:2.686px">In bps. Weighted average of the basis of 6 USD</div>
<div class="t body" style="transform:translate(30.5px,93.11px) scaleX(0.752);letter-spacing:3.218px">pairs: EUR, JPY, GBP, CAD, AUD, CHF. The</div>
<div class="t body" style="transform:translate(30.5px,128.10px) scaleX(0.752);letter-spacing:2.926px">weights are based on the Bloomberg BBDXY</div>
<div class="t body" style="transform:translate(30.5px,163.10px) scaleX(0.752);letter-spacing:2.673px">Index. Due to their illiquidity we exclude EM</div>
<div class="t body" style="transform:translate(30.5px,198.10px) scaleX(0.752);letter-spacing:2.553px">currencies fx basis.</div>
<div class="t src" style="transform:translate(30.3px,762.69px) scaleX(0.79);letter-spacing:0.646px">Source: Bloomberg</div>
<div class="r dig" style="transform:translate(-529.00px,248.50px) scaleX(0.885);letter-spacing:-0.339px;margin-right:0.339px">10</div>
<div class="r dig" style="transform:translate(-529.00px,312.50px) scaleX(0.885);letter-spacing:-0.339px;margin-right:0.339px">0</div>
<div class="r dig" style="transform:translate(-529.00px,376.50px) scaleX(0.885);letter-spacing:-0.339px;margin-right:0.339px">-10</div>
<div class="r dig" style="transform:translate(-529.00px,440.50px) scaleX(0.885);letter-spacing:-0.339px;margin-right:0.339px">-20</div>
<div class="r dig" style="transform:translate(-529.00px,504.50px) scaleX(0.885);letter-spacing:-0.339px;margin-right:0.339px">-30</div>
<div class="r dig" style="transform:translate(-529.00px,568.50px) scaleX(0.885);letter-spacing:-0.339px;margin-right:0.339px">-40</div>
<div class="r dig" style="transform:translate(-529.00px,632.50px) scaleX(0.885);letter-spacing:-0.339px;margin-right:0.339px">-50</div>
<div class="r dig" style="transform:translate(-529.00px,696.50px) scaleX(0.885);letter-spacing:-0.339px;margin-right:0.339px">-60</div>
<div class="c dig" style="transform:translate(48.70px,723.90px) scaleX(0.865);letter-spacing:-0.347px;text-indent:-0.347px">04</div>
<div class="c dig" style="transform:translate(128.00px,723.90px) scaleX(0.865);letter-spacing:-0.347px;text-indent:-0.347px">06</div>
<div class="c dig" style="transform:translate(207.10px,723.90px) scaleX(0.865);letter-spacing:-0.347px;text-indent:-0.347px">08</div>
<div class="c dig" style="transform:translate(285.80px,723.90px) scaleX(0.865);letter-spacing:-0.347px;text-indent:-0.347px">10</div>
<div class="c dig" style="transform:translate(364.60px,723.90px) scaleX(0.865);letter-spacing:-0.347px;text-indent:-0.347px">12</div>
<div class="c dig" style="transform:translate(443.70px,723.90px) scaleX(0.865);letter-spacing:-0.347px;text-indent:-0.347px">14</div>
</body></html>
